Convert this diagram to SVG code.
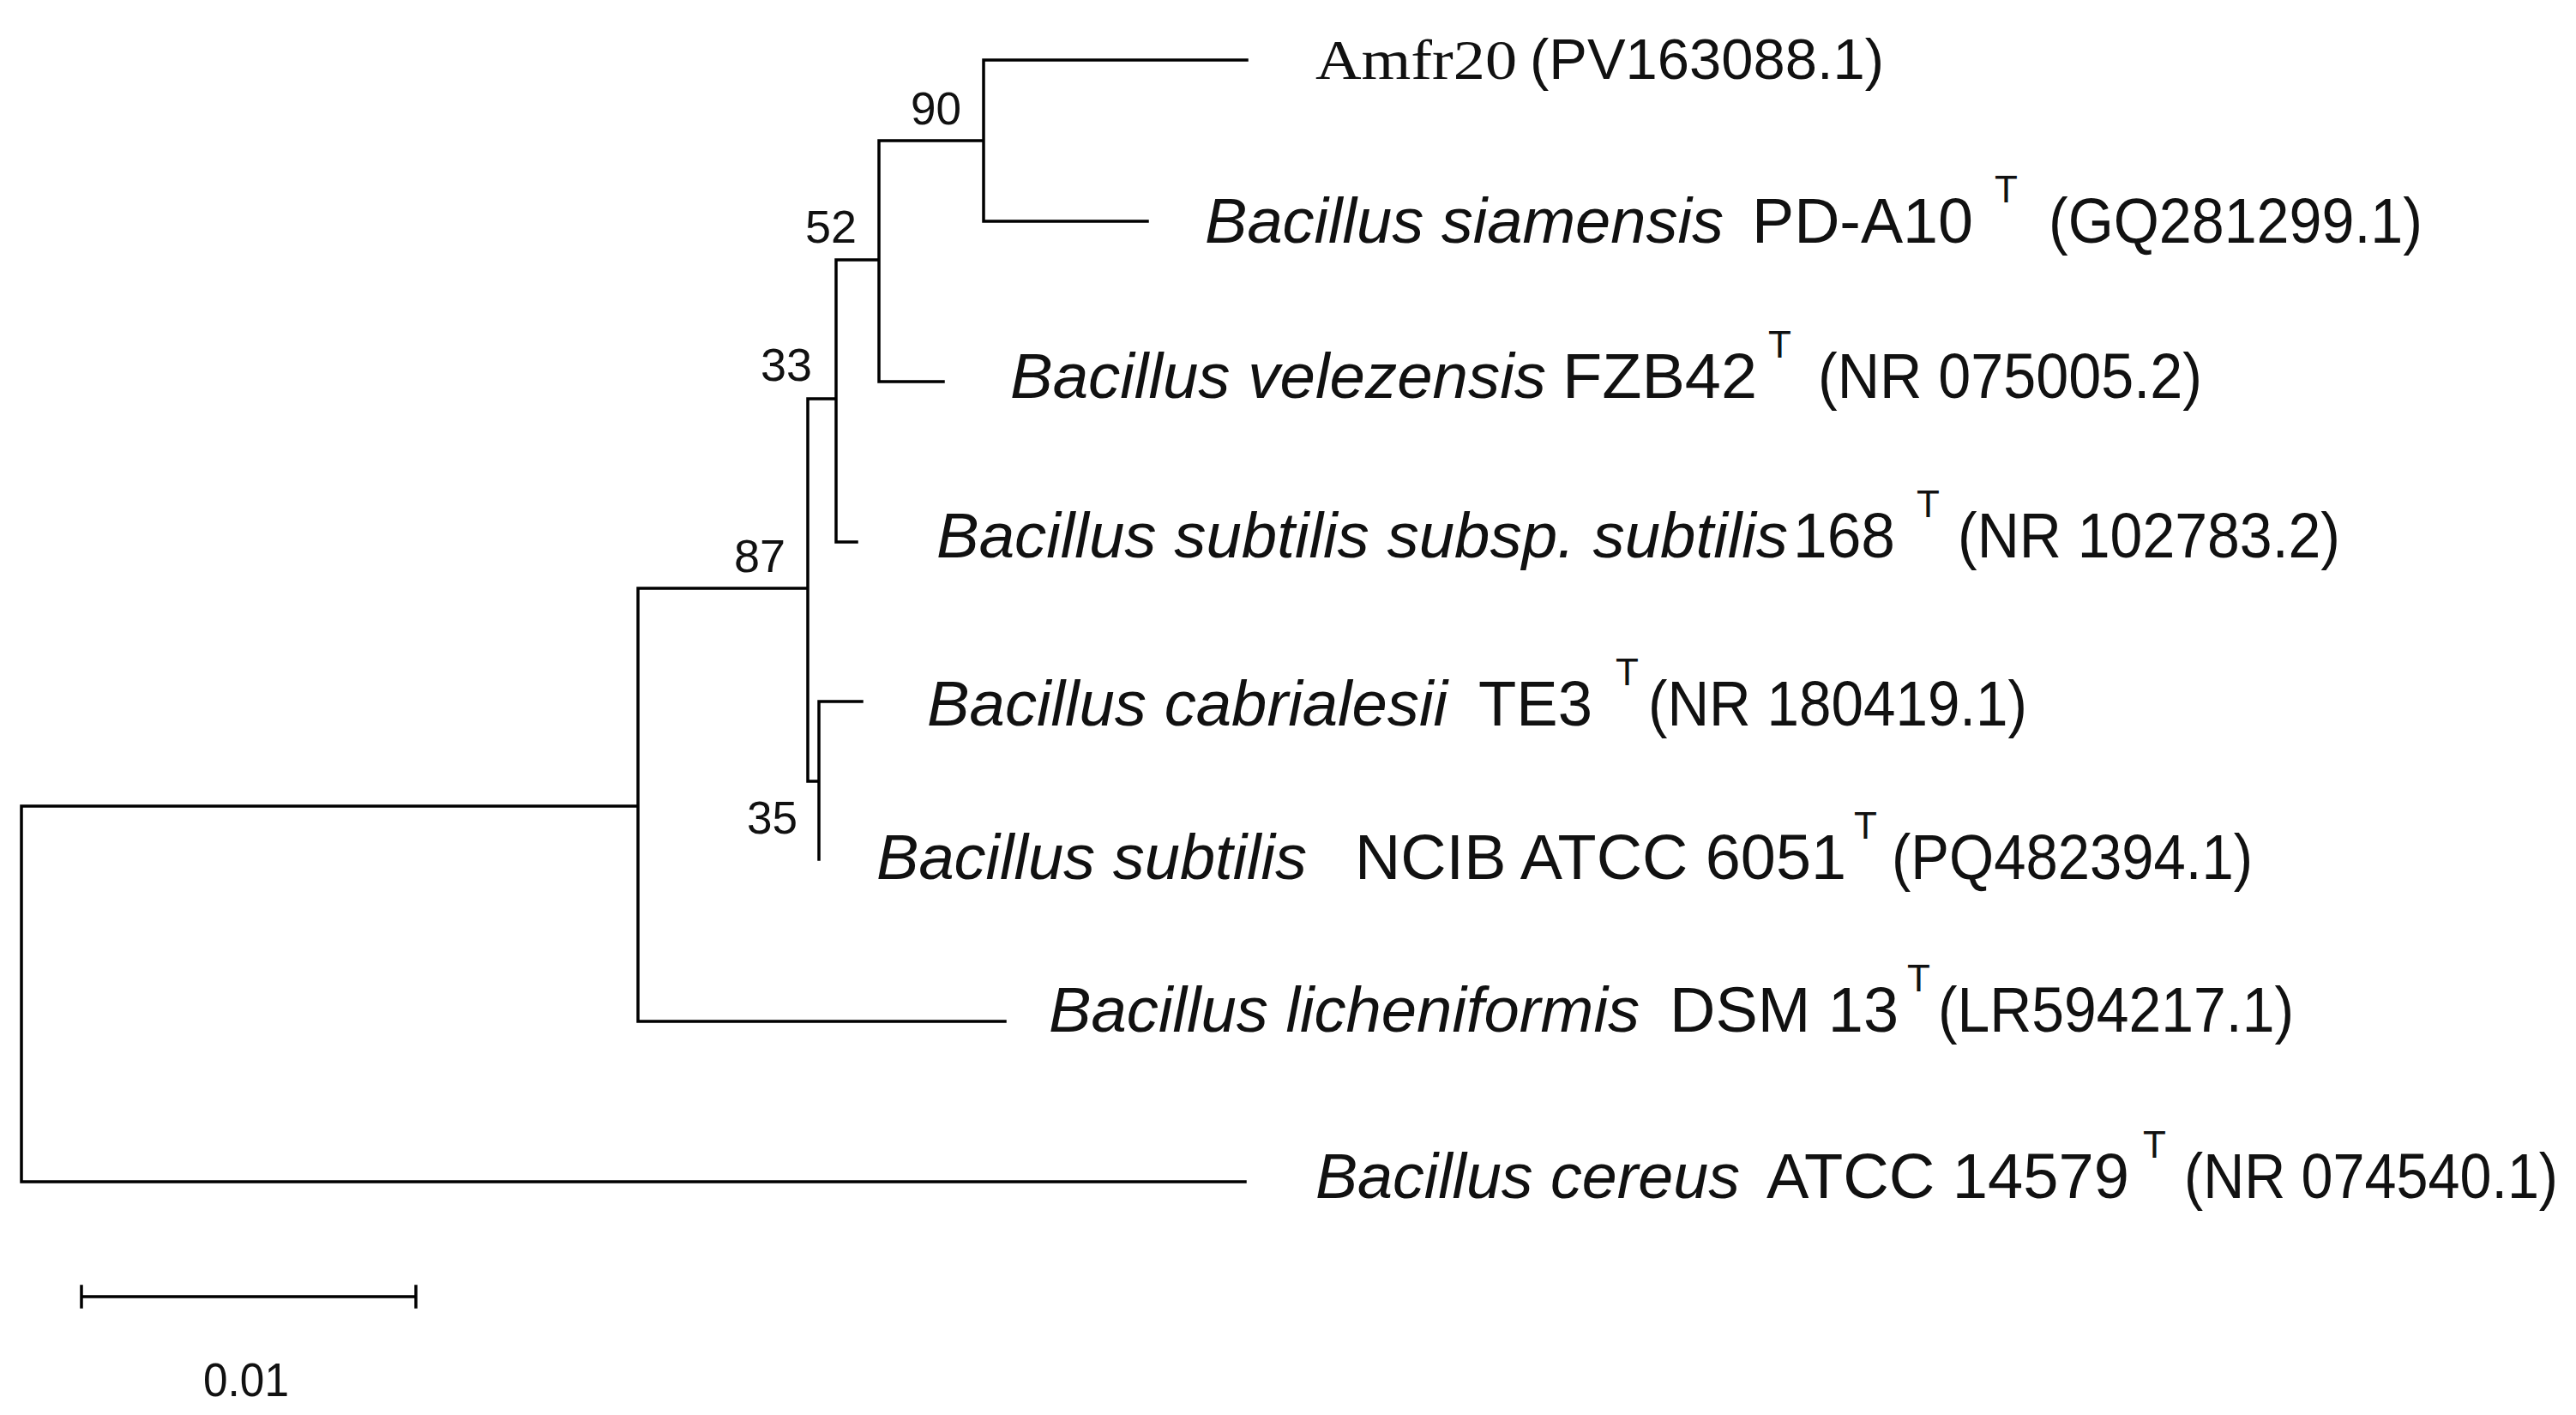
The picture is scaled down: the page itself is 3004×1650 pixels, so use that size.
<svg xmlns="http://www.w3.org/2000/svg" width="3004" height="1650" viewBox="0 0 3004 1650">
<style>
.e{stroke:#000;stroke-width:3.5;fill:none;stroke-linecap:square}
text{font-family:"Liberation Sans",Arial,sans-serif;fill:#111}
.l{font-size:74px}
.i{font-style:italic}
.s{font-size:44px}
.b{font-size:54px}
</style>
<rect width="3004" height="1650" fill="#fff"/>
<g id="connectors">
<path class="e" d="M25 940V1378H1452M25 940H744M744 686V1191H1172M744 686H942M942 465V911H955M955 818V1002M955 818H1005M942 465H975M975 303V632H999M975 303H1025M1025 164V445H1100M1025 164H1147M1147 70V258H1338M1147 70H1454"/>
<path class="e" d="M95 1512H485M95 1500V1524M485 1500V1524"/>
</g>
<g id="bootstrap">
<text class="b" x="1062" y="145" textLength="59" lengthAdjust="spacingAndGlyphs">90</text>
<text class="b" x="939" y="283" textLength="60" lengthAdjust="spacingAndGlyphs">52</text>
<text class="b" x="887" y="444" textLength="60" lengthAdjust="spacingAndGlyphs">33</text>
<text class="b" x="856" y="667" textLength="60" lengthAdjust="spacingAndGlyphs">87</text>
<text class="b" x="871" y="972" textLength="59" lengthAdjust="spacingAndGlyphs">35</text>
</g>
<g id="n1"><text x="1534" y="92" style="font-family:'Liberation Serif',serif;font-size:66px" textLength="235" lengthAdjust="spacingAndGlyphs">Amfr20</text><text x="1784" y="92" textLength="413" lengthAdjust="spacingAndGlyphs" style="font-size:66px">(PV163088.1)</text></g>
<g id="n2"><text class="l i" x="1405" y="283" textLength="605" lengthAdjust="spacingAndGlyphs">Bacillus siamensis</text><text class="l" x="2043" y="283" textLength="258" lengthAdjust="spacingAndGlyphs">PD-A10</text><text class="s" x="2326" y="236">T</text><text class="l" x="2389" y="283" textLength="436" lengthAdjust="spacingAndGlyphs">(GQ281299.1)</text></g>
<g id="n3"><text class="l i" x="1178" y="464" textLength="625" lengthAdjust="spacingAndGlyphs">Bacillus velezensis</text><text class="l" x="1822" y="464" textLength="227" lengthAdjust="spacingAndGlyphs">FZB42</text><text class="s" x="2062" y="417">T</text><text class="l" x="2120" y="464" textLength="448" lengthAdjust="spacingAndGlyphs">(NR 075005.2)</text></g>
<g id="n4"><text class="l i" x="1092" y="650" textLength="993" lengthAdjust="spacingAndGlyphs">Bacillus subtilis subsp. subtilis</text><text class="l" x="2091" y="650" textLength="119" lengthAdjust="spacingAndGlyphs">168</text><text class="s" x="2235" y="603">T</text><text class="l" x="2283" y="650" textLength="446" lengthAdjust="spacingAndGlyphs">(NR 102783.2)</text></g>
<g id="n5"><text class="l i" x="1081" y="846" textLength="607" lengthAdjust="spacingAndGlyphs">Bacillus cabrialesii</text><text class="l" x="1724" y="846" textLength="133" lengthAdjust="spacingAndGlyphs">TE3</text><text class="s" x="1884" y="799">T</text><text class="l" x="1922" y="846" textLength="442" lengthAdjust="spacingAndGlyphs">(NR 180419.1)</text></g>
<g id="n6"><text class="l i" x="1022" y="1025" textLength="502" lengthAdjust="spacingAndGlyphs">Bacillus subtilis</text><text class="l" x="1580" y="1025" textLength="573" lengthAdjust="spacingAndGlyphs">NCIB ATCC 6051</text><text class="s" x="2162" y="978">T</text><text class="l" x="2206" y="1025" textLength="421" lengthAdjust="spacingAndGlyphs">(PQ482394.1)</text></g>
<g id="n7"><text class="l i" x="1223" y="1203" textLength="689" lengthAdjust="spacingAndGlyphs">Bacillus licheniformis</text><text class="l" x="1947" y="1203" textLength="267" lengthAdjust="spacingAndGlyphs">DSM 13</text><text class="s" x="2224" y="1156">T</text><text class="l" x="2260" y="1203" textLength="415" lengthAdjust="spacingAndGlyphs">(LR594217.1)</text></g>
<g id="n8"><text class="l i" x="1534" y="1397" textLength="495" lengthAdjust="spacingAndGlyphs">Bacillus cereus</text><text class="l" x="2060" y="1397" textLength="423" lengthAdjust="spacingAndGlyphs">ATCC 14579</text><text class="s" x="2499" y="1350">T</text><text class="l" x="2547" y="1397" textLength="436" lengthAdjust="spacingAndGlyphs">(NR 074540.1)</text></g>
<g id="scale"><text x="287" y="1628" text-anchor="middle" style="font-size:56px" textLength="100" lengthAdjust="spacingAndGlyphs">0.01</text></g>
</svg>
